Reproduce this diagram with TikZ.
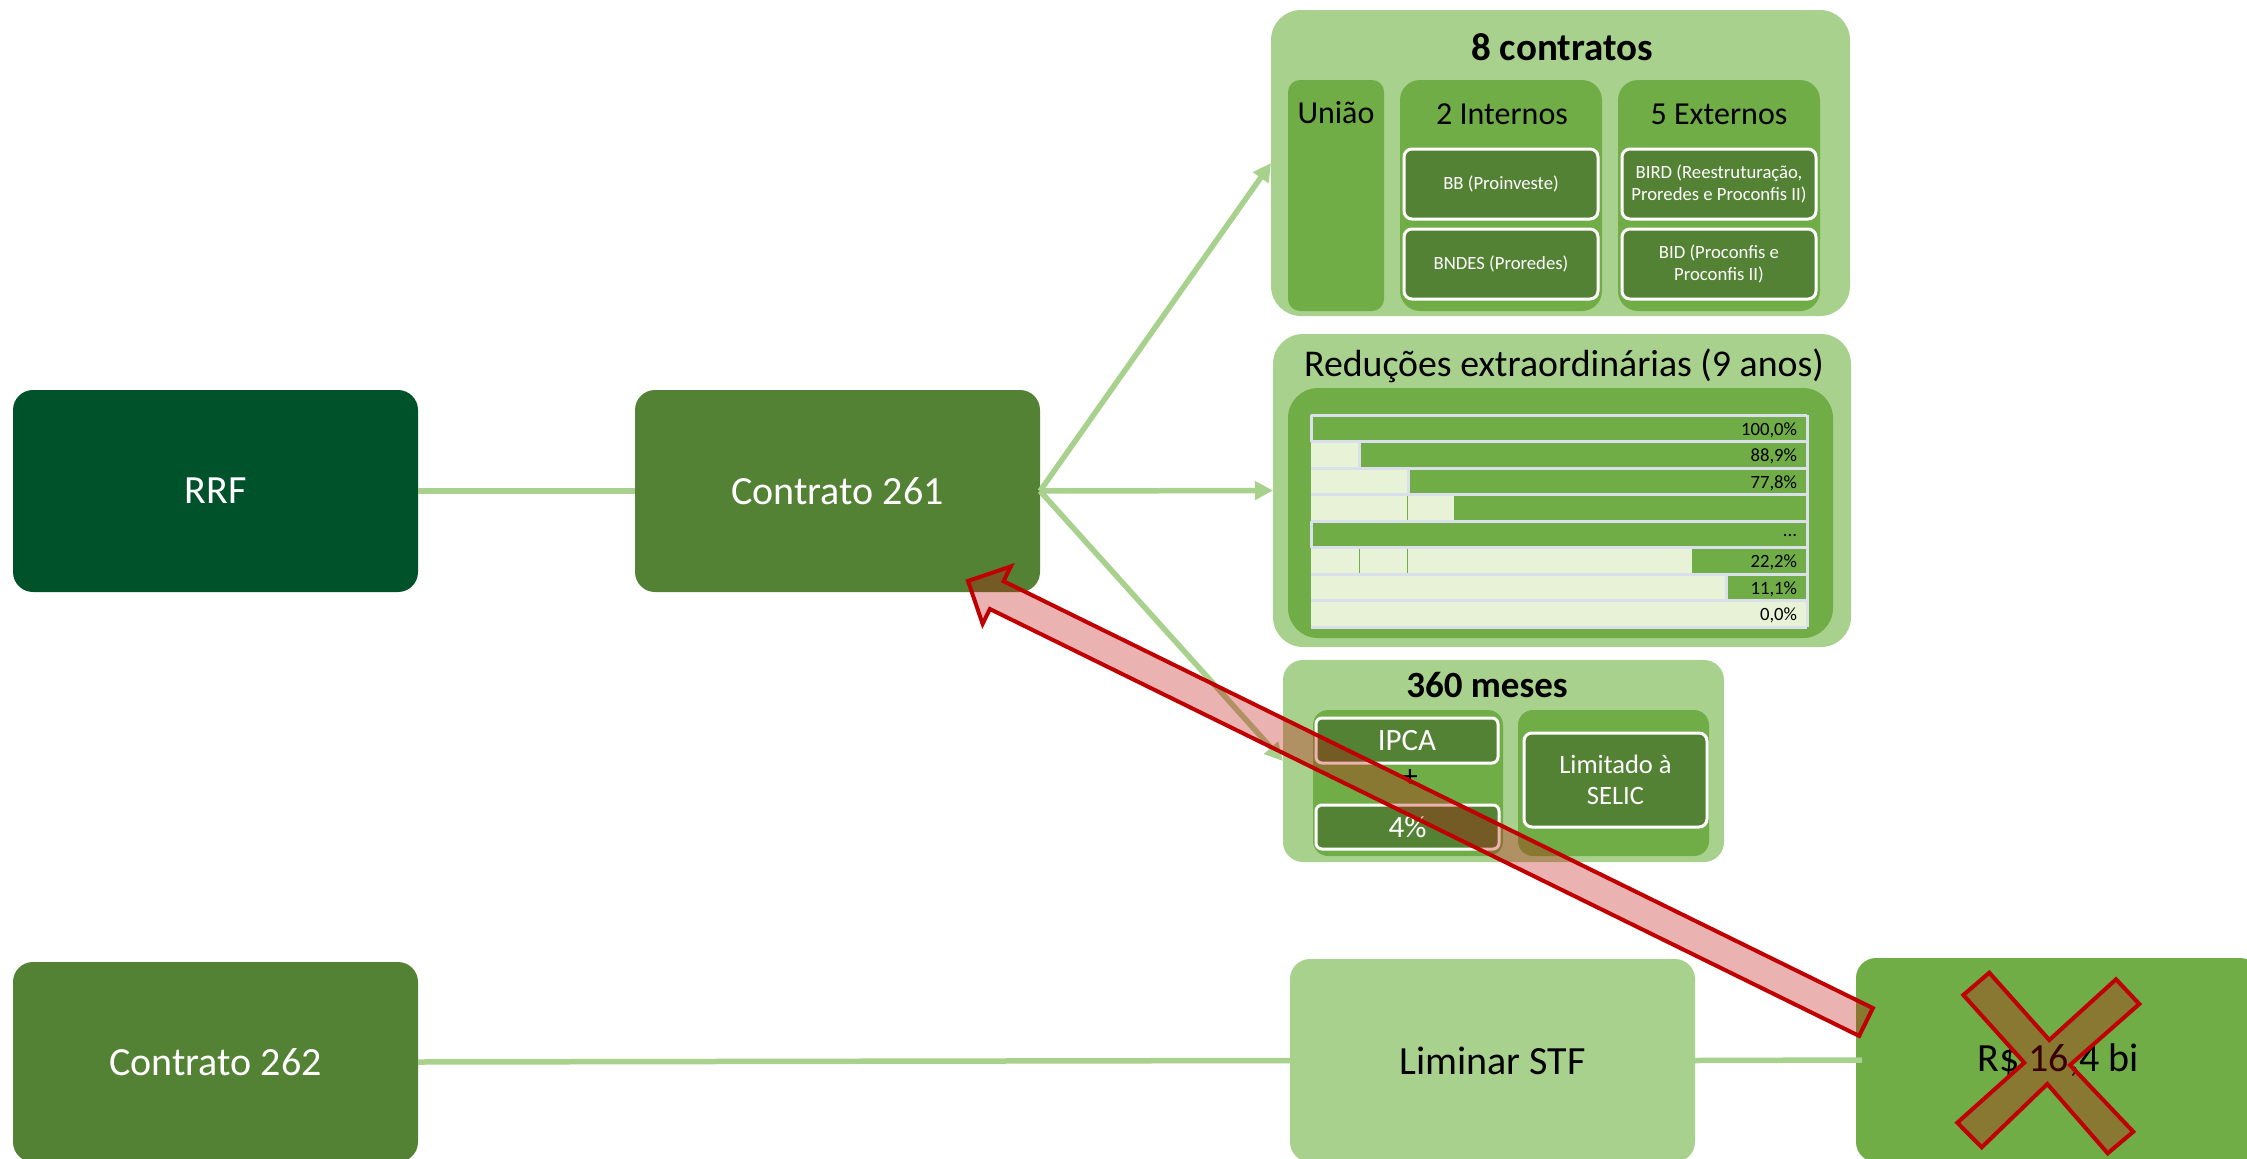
\documentclass[tikz,border=0pt]{standalone}
\usepackage{fontspec}
\setmainfont{Carlito}
\usetikzlibrary{arrows.meta,calc}
\definecolor{dkg}{HTML}{00522B}
\definecolor{cg}{HTML}{548235}
\definecolor{lg}{HTML}{A9D18E}
\definecolor{mg}{HTML}{70AD47}
\definecolor{pale}{HTML}{E7F2D7}
\definecolor{gridc}{HTML}{D9E0EC}
\definecolor{rd}{HTML}{C00000}
\newcommand\fsz[2]{\fontsize{#1}{#2}\selectfont}
% name, style, x1, y1, x2, y2, text
\newcommand\rbox[7]{\node[#2, minimum width={(#5)-(#3)}, minimum height={(#6)-(#4)}] (#1) at ({((#3)+(#5))/2},{((#4)+(#6))/2}) {#7};}
\tikzset{
  base/.style={inner sep=0pt, outer sep=0pt, rectangle},
  bigbox/.style={base, rounded corners=20pt, text=white, font=\fsz{40}{48}},
  grpbox/.style={base, fill=lg, rounded corners=30pt},
  subgrp/.style={base, fill=mg, rounded corners=20pt},
  smallbox/.style={base, fill=cg, draw=white, line width=3pt, rounded corners=8pt, text=white, font=\fsz{18.7}{22}, align=center},
  lbl/.style={inner sep=0pt, outer sep=0pt, text=black},
  conn/.style={draw=lg, line width=5.5pt},
  tip/.style={-{Triangle[length=18pt,width=18pt]}},
  redshape/.style={draw=rd, fill=rd, fill opacity=0.3, line width=4pt, line join=miter},
}
\begin{document}
\begin{tikzpicture}[x=1pt,y=-1pt]
\useasboundingbox (0,0) rectangle (2247,1159);
\fill[white] (0,0) rectangle (2247,1159);

% main boxes
\rbox{rrf}{bigbox,fill=dkg}{13}{390}{418}{592}{RRF}
\rbox{c261}{bigbox,fill=cg}{635}{390}{1040}{592}{Contrato 261}
\rbox{c262}{bigbox,fill=cg}{13}{962}{418}{1162}{Contrato 262}
\rbox{lim}{bigbox,fill=lg,text=black}{1290}{959}{1695}{1162}{Liminar STF}
\rbox{rs}{bigbox,fill=mg,text=black}{1856}{958}{2260}{1162}{R\$ 16,4 bi}

% group 1
\rbox{g1}{grpbox}{1271}{10}{1850}{316}{}
\node[lbl,font=\bfseries\fsz{39}{46}] (g1t) at (1562,47) {8 contratos};
\rbox{uni}{subgrp,rounded corners=12pt}{1288}{80}{1384}{311}{}
\node[lbl,font=\fsz{32}{38}] (unit) at (1336,113) {União};
\rbox{int}{subgrp}{1400}{80}{1602}{311}{}
\node[lbl,font=\fsz{32}{38}] (intt) at (1502,114) {2 Internos};
\rbox{bb}{smallbox}{1404}{149}{1598}{219}{BB (Proinveste)}
\rbox{bndes}{smallbox}{1404}{229}{1598}{299}{BNDES (Proredes)}
\rbox{ext}{subgrp}{1618}{80}{1820}{311}{}
\node[lbl,font=\fsz{32}{38}] (extt) at (1719,114) {5 Externos};
\rbox{bird}{smallbox}{1622}{149}{1816}{219}{BIRD (Reestruturação,\\Proredes e Proconfis II)}
\rbox{bid}{smallbox}{1622}{229}{1816}{299}{BID (Proconfis e\\Proconfis II)}

% group 2
\rbox{g2}{grpbox}{1273}{334}{1851}{647}{}
\node[lbl,font=\fsz{37.8}{44}] (g2t) at (1564,366) {Reduções extraordinárias (9 anos)};
\rbox{g2i}{subgrp,rounded corners=30pt}{1288}{388}{1833}{638}{}
\foreach \k/\e/\t in {0/1311/{100,0\%},1/1359/{88,9\%},2/1408/{77,8\%},3/1454/{},4/1311/{...},5/1692/{22,2\%},6/1726/{11,1\%},7/1807/{0,0\%}}{
  \pgfmathsetmacro\yt{415+26.5*\k}
  \pgfmathsetmacro\yb{\yt+26.5}
  \fill[mg] (1311,\yt) rectangle (1807,\yb);
  \fill[pale] (1311,\yt) rectangle (\e,\yb);
  \node[lbl,anchor=east,font=\fsz{18.7}{22}] at (1797,\yt+15) {\t};
}
% separators inside light parts
\draw[mg,line width=1pt] (1407,494.5) -- (1407,521);
\draw[mg,line width=1pt] (1359,547.5) -- (1359,574) (1407,547.5) -- (1407,574);
\draw[gridc,line width=3pt] (1359,441.5) -- (1359,468) (1408,468) -- (1408,494.5) (1726,574) -- (1726,600.5);
\foreach \k in {0,...,8}{
  \draw[gridc,line width=3pt] (1311,415+26.5*\k) -- (1807,415+26.5*\k);
}
\draw[gridc,line width=3pt] (1311,415) -- (1311,441.5) (1311,521) -- (1311,547.5);
\draw[gridc,line width=3pt] (1807,415) -- (1807,627);

% group 3
\rbox{g3}{grpbox,rounded corners=20pt}{1283}{660}{1724}{862}{}
\node[lbl,font=\bfseries\fsz{37}{44}] (g3t) at (1487,685) {360 meses};
\rbox{g3l}{subgrp,rounded corners=15pt}{1313}{710}{1503}{856}{}
\rbox{ipca}{smallbox,rounded corners=6pt,font=\fsz{31}{36}}{1316}{718}{1498}{763}{IPCA}
\node[lbl,font=\fsz{31}{36}] (plus) at (1410,778) {+};
\rbox{four}{smallbox,rounded corners=6pt,font=\fsz{31}{36}}{1316}{805}{1499}{849}{4\%}
\rbox{g3r}{subgrp,rounded corners=15pt}{1518}{710}{1709}{856}{}
\rbox{selic}{smallbox,font=\fsz{26.5}{31}}{1524}{733}{1707}{827}{Limitado à\\SELIC}

% connectors
\draw[conn] (rrf.east) -- (c261.west);
\draw[conn] (c262.east) -- (lim.west);
\draw[conn] (lim.east) -- ([xshift=6pt]rs.west);
\draw[conn,tip] (c261.east) -- (g1.west);
\draw[conn,tip] (c261.east) -- (g2.west);
\draw[conn,tip] (c261.east) -- (g3.west);

% red X over the value
\filldraw[redshape] (1963.3,995) -- (1989.3,972.7) -- (2049.3,1040) -- (2116,979.3) -- (2139.3,1004) -- (2070,1065) -- (2133.3,1131.7) -- (2107.7,1153.3) -- (2047.3,1084) -- (1981.7,1147.3) -- (1957.3,1122.7) -- (2024.3,1062.7) -- cycle;

% big red arrow back to Contrato 261
\coordinate (rtip) at (968,581);
\coordinate (rtail) at (1866,1022);
\coordinate (rh) at ($(rtip)!32pt!(rtail)$);
\filldraw[redshape] (rtip) -- ($(rh)!32pt!90:(rtail)$) -- ($(rh)!15.5pt!90:(rtail)$) -- ($(rtail)!15.5pt!-90:(rtip)$) -- ($(rtail)!15.5pt!90:(rtip)$) -- ($(rh)!15.5pt!-90:(rtail)$) -- ($(rh)!32pt!-90:(rtail)$) -- cycle;
\end{tikzpicture}
\end{document}
